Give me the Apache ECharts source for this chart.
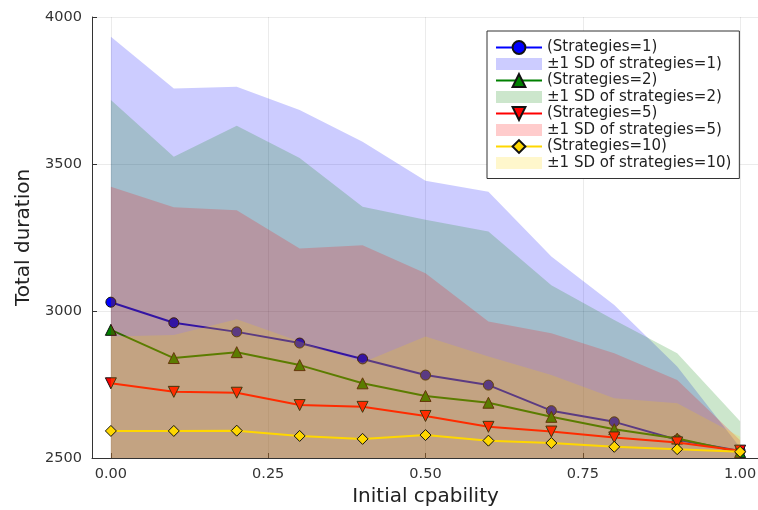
<!DOCTYPE html>
<html>
<head>
<meta charset="utf-8">
<script src="https://cdn.jsdelivr.net/npm/echarts@6/dist/echarts.min.js"></script>
<style>html,body{margin:0;padding:0;background:#fff}#c{width:758px;height:510px}</style>
</head>
<body>
<div id="c"></div>
<script>
// ---- data ----
const capability = [0, 0.1, 0.2, 0.3, 0.4, 0.5, 0.6, 0.7, 0.8, 0.9, 1.0];
const xTicks = [0, 0.25, 0.5, 0.75, 1];
const yTicks = [2500, 3000, 3500, 4000];

const mean1  = [3030, 2960, 2929, 2891, 2837, 2782, 2748, 2661, 2623, 2562, 2524];
const sd1    = [903, 797, 834, 793, 739, 661, 658, 524, 397, 249, 12];
const mean2  = [2936, 2840, 2860, 2816, 2754, 2711, 2688, 2640, 2598, 2566, 2520];
const sd2    = [782, 685, 770, 704, 601, 599, 582, 448, 371, 290, 105];
const mean5  = [2754, 2725, 2722, 2680, 2674, 2643, 2606, 2590, 2570, 2553, 2525];
const sd5    = [669, 628, 621, 533, 550, 485, 358, 334, 286, 212, 35];
const mean10 = [2592, 2592, 2593, 2575, 2565, 2578, 2559, 2551, 2538, 2530, 2521];
const sd10   = [321, 326, 379, 321, 260, 335, 286, 231, 165, 156, 51];

const lineNames = ['(Strategies=1)', '(Strategies=2)', '(Strategies=5)', '(Strategies=10)'];
const bandNames = ['±1 SD of strategies=1)', '±1 SD of strategies=2)', '±1 SD of strategies=5)', '±1 SD of strategies=10)'];

// ---- styling ----
const FONT = 'DejaVu Sans';
const groups = [
  {mean: mean1,  sd: sd1,  color: '#0000ff', band: 'rgba(0,0,255,0.2)',   symbol: 'circle',   size: 10},
  {mean: mean2,  sd: sd2,  color: '#008000', band: 'rgba(0,128,0,0.2)',   symbol: 'triangle', size: 11},
  {mean: mean5,  sd: sd5,  color: '#ff0000', band: 'rgba(255,0,0,0.2)',   symbol: 'path://M0,0 L10,0 L5,8.66 Z', size: 11},
  {mean: mean10, sd: sd10, color: '#ffd700', band: 'rgba(255,215,0,0.2)', symbol: 'diamond',  size: 11}
];

const series = [];
const legendData = [];
groups.forEach((g, i) => {
  const bandData = capability.map((x, k) => [x, g.mean[k] - g.sd[k], g.mean[k] + g.sd[k]]);
  series.push({
    name: bandNames[i],
    type: 'custom',
    data: bandData,
    encode: {x: 0, y: [1, 2]},
    clip: true,
    silent: true,
    z: 3 * i + 1,
    itemStyle: {color: g.band},
    renderItem: (params, api) => {
      if (params.dataIndex !== 0) return null;
      const up = bandData.map(d => api.coord([d[0], d[2]]));
      const lo = bandData.map(d => api.coord([d[0], d[1]])).reverse();
      return {type: 'polygon', shape: {points: up.concat(lo)}, style: {fill: g.band}};
    }
  });
  series.push({
    name: lineNames[i],
    type: 'line',
    data: capability.map((x, k) => [x, g.mean[k]]),
    symbol: g.symbol,
    symbolSize: g.size,
    showSymbol: true,
    clip: true,
    z: 3 * i + 2,
    lineStyle: {color: g.color, width: 2},
    itemStyle: {color: g.color, borderColor: '#111', borderWidth: 1}
  });
  legendData.push({name: lineNames[i]});
  legendData.push({name: bandNames[i], icon: 'path://M0,0 H46 V12 H0 Z', itemStyle: {color: g.band}});
});

const chart = echarts.init(document.getElementById('c'), null, {renderer: 'canvas'});
chart.setOption({
  animation: false,
  backgroundColor: '#fff',
  textStyle: {fontFamily: FONT},
  grid: {left: 92, top: 17, width: 667, height: 441, containLabel: false, outerBoundsMode: 'none'},
  xAxis: {
    type: 'value', min: -0.03, max: 1.03,
    name: 'Initial cpability', nameLocation: 'middle', nameGap: 29,
    nameTextStyle: {fontSize: 20, color: '#222', fontFamily: FONT},
    axisLine: {onZero: false, lineStyle: {color: '#333', width: 1}},
    axisTick: {show: true, inside: true, length: 5, customValues: xTicks, lineStyle: {color: '#333'}},
    axisLabel: {customValues: xTicks, fontSize: 14.5, color: '#333', fontFamily: FONT, margin: 9,
      formatter: v => v.toFixed(2)},
    splitLine: {show: true, lineStyle: {color: 'rgba(0,0,0,0.08)', width: 1}}
  },
  yAxis: {
    type: 'value', min: 2500, max: 4000, interval: 500,
    name: 'Total duration', nameLocation: 'middle', nameGap: 55, nameRotate: 90,
    nameTextStyle: {fontSize: 20, color: '#222', fontFamily: FONT},
    axisLine: {show: true, onZero: false, lineStyle: {color: '#333', width: 1}},
    axisTick: {show: true, inside: true, length: 5, lineStyle: {color: '#333'}},
    axisLabel: {fontSize: 14.5, color: '#333', fontFamily: FONT, margin: 10,
      formatter: v => String(v)},
    splitLine: {show: true, lineStyle: {color: 'rgba(0,0,0,0.08)', width: 1}}
  },
  legend: {
    data: legendData,
    orient: 'vertical',
    left: 487, top: 31,
    z: 20,
    itemWidth: 46, itemHeight: 16, itemGap: 1.5,
    padding: [9, 8, 8, 8],
    backgroundColor: '#fff',
    borderColor: '#333', borderWidth: 1, borderRadius: 0,
    selectedMode: false,
    textStyle: {fontSize: 15, color: '#222', fontFamily: FONT}
  },
  series: series
});
</script>
</body>
</html>
